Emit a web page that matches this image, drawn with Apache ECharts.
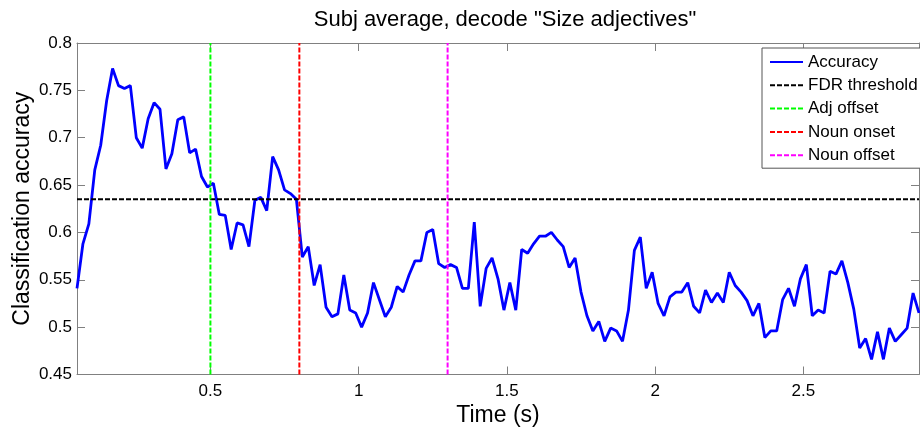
<!DOCTYPE html>
<html>
<head>
<meta charset="utf-8">
<script src="https://cdn.jsdelivr.net/npm/echarts@6/dist/echarts.min.js"></script>
<style>
html,body{margin:0;padding:0;background:#fff;}
#chart{width:920px;height:433px;}
</style>
</head>
<body>
<div id="chart"></div>
<script>
// ---- data ----
const titleText = 'Subj average, decode "Size adjectives"';
const xName = 'Time (s)';
const yName = 'Classification accuracy';
const timeStart = 0.05;      // first sample (s)
const timeStep = 0.02;       // sample spacing (s)
const timeEnd = 2.89;
const accuracy = [
  0.541,0.588,0.609,0.666,0.692,0.739,0.773,0.755,0.752,0.755,
  0.700,0.689,0.720,0.737,0.730,0.667,0.683,0.719,0.722,0.684,
  0.688,0.659,0.648,0.652,0.619,0.618,0.582,0.610,0.608,0.585,
  0.634,0.637,0.623,0.680,0.666,0.645,0.641,0.635,0.574,0.585,
  0.544,0.566,0.521,0.511,0.514,0.555,0.518,0.515,0.500,0.515,
  0.547,0.529,0.511,0.521,0.543,0.537,0.555,0.570,0.570,0.600,
  0.603,0.567,0.563,0.566,0.563,0.541,0.541,0.611,0.522,0.562,
  0.573,0.551,0.518,0.547,0.518,0.582,0.578,0.588,0.596,0.596,
  0.600,0.592,0.585,0.563,0.573,0.537,0.512,0.496,0.506,0.485,
  0.499,0.496,0.485,0.518,0.581,0.595,0.541,0.558,0.525,0.512,
  0.532,0.537,0.537,0.547,0.522,0.515,0.539,0.526,0.536,0.526,
  0.558,0.544,0.537,0.528,0.512,0.525,0.489,0.496,0.496,0.529,
  0.541,0.522,0.551,0.566,0.512,0.518,0.515,0.559,0.556,0.570,
  0.547,0.519,0.478,0.488,0.466,0.495,0.466,0.499,0.485,0.492,
  0.499,0.536,0.515
];
const fdrThreshold = 0.635;
const adjOffset = 0.5;
const nounOnset = 0.8;
const nounOffset = 1.3;
const xTicks = [0.5, 1, 1.5, 2, 2.5];
const yMin = 0.45, yMax = 0.8, yStep = 0.05;
const seriesNames = ['Accuracy', 'FDR threshold', 'Adj offset', 'Noun onset', 'Noun offset'];

// ---- build ----
const accData = accuracy.map((v, i) => [+(timeStart + i * timeStep).toFixed(4), v]);
const vline = x => [[x, yMin], [x, yMax]];
const FONT = 'Liberation Sans';
const axisGray = '#808080';
const dash = [5, 2];

const chart = echarts.init(document.getElementById('chart'), null, {renderer: 'canvas'});
chart.setOption({
  animation: false,
  backgroundColor: '#fff',
  title: {
    text: titleText, left: 500, top: 4, textAlign: 'center',
    textStyle: {fontFamily: FONT, fontSize: 22, fontWeight: 'normal', color: '#000'}
  },
  legend: {
    data: seriesNames,
    orient: 'vertical', left: 762, top: 48,
    itemWidth: 33, itemHeight: 14, itemGap: 6.3,
    padding: [5.5, 3, 4.5, 7],
    borderColor: '#555', borderWidth: 1, backgroundColor: '#fff',
    itemStyle: {opacity: 0, borderWidth: 0},
    textStyle: {fontFamily: FONT, fontSize: 17, color: '#000', lineHeight: 17}
  },
  grid: {left: 77, top: 43, width: 842, height: 331.5, outerBoundsMode: 'none', containLabel: false},
  xAxis: [{
    type: 'value', min: timeStart, max: timeEnd,
    name: xName, nameLocation: 'middle', nameGap: 30,
    nameTextStyle: {fontFamily: FONT, fontSize: 23, color: '#000'},
    axisLine: {show: true, onZero: false, lineStyle: {color: axisGray, width: 1}},
    axisTick: {show: true, inside: true, length: 8, customValues: xTicks, lineStyle: {color: axisGray}},
    axisLabel: {customValues: xTicks, fontFamily: FONT, fontSize: 17, color: '#000', margin: 8},
    splitLine: {show: false}
  }, {
    type: 'value', min: timeStart, max: timeEnd, position: 'top',
    axisLine: {show: true, onZero: false, lineStyle: {color: axisGray, width: 1}},
    axisTick: {show: true, inside: true, length: 8, customValues: xTicks, lineStyle: {color: axisGray}},
    axisLabel: {show: false},
    splitLine: {show: false}
  }],
  yAxis: [{
    type: 'value', min: yMin, max: yMax, interval: yStep,
    name: yName, nameLocation: 'middle', nameGap: 43, nameRotate: 90, nameMoveOverlap: false,
    nameTextStyle: {fontFamily: FONT, fontSize: 23, color: '#000'},
    axisLine: {show: true, onZero: false, lineStyle: {color: axisGray, width: 1}},
    axisTick: {show: true, inside: true, length: 8, lineStyle: {color: axisGray}},
    axisLabel: {fontFamily: FONT, fontSize: 17, color: '#000', margin: 5},
    splitLine: {show: false}
  }, {
    type: 'value', min: yMin, max: yMax, interval: yStep, position: 'right',
    axisLine: {show: true, onZero: false, lineStyle: {color: axisGray, width: 1}},
    axisTick: {show: true, inside: true, length: 8, lineStyle: {color: axisGray}},
    axisLabel: {show: false},
    splitLine: {show: false}
  }],
  series: [
    {name: seriesNames[0], type: 'line', data: accData, symbol: 'none', showSymbol: false,
     lineStyle: {color: '#0000ff', width: 2.8}, itemStyle: {color: '#0000ff'}, z: 3},
    {name: seriesNames[1], type: 'line', data: [[timeStart, fdrThreshold], [timeEnd, fdrThreshold]],
     symbol: 'none', lineStyle: {color: '#000000', width: 2, type: dash}, itemStyle: {color: '#000000'}, z: 4},
    {name: seriesNames[2], type: 'line', data: vline(adjOffset),
     symbol: 'none', lineStyle: {color: '#00ff00', width: 2, type: dash}, itemStyle: {color: '#00ff00'}, z: 4},
    {name: seriesNames[3], type: 'line', data: vline(nounOnset),
     symbol: 'none', lineStyle: {color: '#ff0000', width: 2, type: dash}, itemStyle: {color: '#ff0000'}, z: 4},
    {name: seriesNames[4], type: 'line', data: vline(nounOffset),
     symbol: 'none', lineStyle: {color: '#ff00ff', width: 2, type: dash}, itemStyle: {color: '#ff00ff'}, z: 4}
  ]
});
</script>
</body>
</html>
